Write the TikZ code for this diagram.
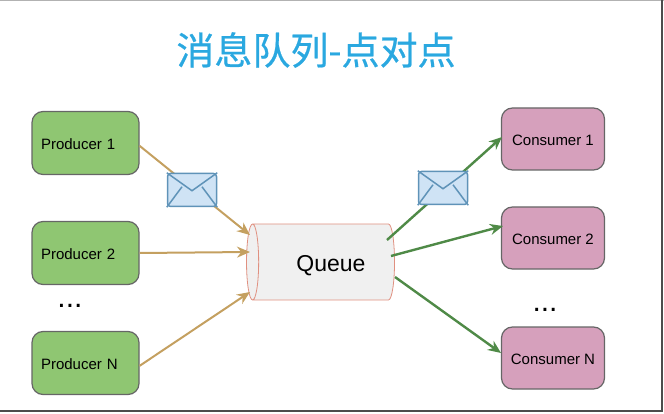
\documentclass[tikz,border=0pt]{standalone}
\usepackage{fontspec}
\setmainfont{Liberation Sans}
\newfontfamily\cjk[FakeBold=0.6]{Noto Sans CJK SC}
\usetikzlibrary{shapes.geometric, arrows.meta}

\definecolor{prodfill}{HTML}{8FC672}
\definecolor{consfill}{HTML}{D6A0BC}
\definecolor{boxline}{HTML}{666666}
\definecolor{inline}{HTML}{C4A060}
\definecolor{outline}{HTML}{4F8A47}
\definecolor{titleblue}{HTML}{2AA8E0}
\definecolor{letterline}{HTML}{5F93B8}
\definecolor{letterfill}{HTML}{CFE3F5}
\definecolor{queueline}{HTML}{E09080}

\begin{document}
\begin{tikzpicture}[x=1pt, y=-1pt, node distance=110pt, every node/.style={align=center, font=\small}, >={Stealth[length=13pt,width=11pt]}]
    % 样式
    \tikzstyle{producer} = [rectangle, rounded corners=11pt, draw=boxline, line width=1.2pt, fill=prodfill, minimum width=107pt, minimum height=63pt, inner sep=9pt, text width=89pt, text height=14pt, align=left, font=\fontsize{15}{18}\selectfont]
    \tikzstyle{consumer} = [rectangle, rounded corners=11pt, draw=boxline, line width=1.2pt, fill=consfill, minimum width=103pt, minimum height=62pt, text height=13pt, font=\fontsize{15}{18}\selectfont]
    \tikzstyle{queuebox} = [cylinder, shape border rotate=180, aspect=0.35, draw=queueline, line width=0.8pt, fill=gray!12, minimum width=76pt, minimum height=148pt, text height=23pt, text depth=5pt, font=\fontsize{23}{26}\selectfont]
    \tikzstyle{letter} = [rectangle, rounded corners=3pt, draw=letterline, line width=1.5pt, fill=letterfill, minimum width=49pt, minimum height=33pt]
    \tikzstyle{flap} = [draw=letterline, line width=1.5pt]
    \tikzstyle{inarrow} = [draw=inline, line width=2pt, ->]
    \tikzstyle{outarrow} = [draw=outline, line width=2.4pt, ->]
    \tikzstyle{dotsmark} = [font=\fontsize{30}{32}\selectfont]

    \useasboundingbox (0,0) rectangle (664,414);

    % 边框
    \draw[gray!60, line width=1pt] (0,0.5) -- (664,0.5);
    \draw[black!70, line width=2pt] (0,410.5) -- (661.5,410.5) -- (661.5,0);

    % 标题
    \node[font=\cjk\fontsize{38}{40}\selectfont, text=titleblue] (title) at (316,50) {消息队列-点对点};

    % 主体节点
    \node[producer] (P1) at (85.5,143) {Producer 1};
    \node[producer, below of=P1] (P2) {Producer 2};
    \node[producer, below of=P2] (PN) {Producer N};
    \node[consumer] (C1) at (553,139) {Consumer 1};
    \node[consumer, below of=C1, yshift=11pt] (C2) {Consumer 2};
    \node[consumer, below of=C2, yshift=-10pt] (CN) {Consumer N};
    \node[queuebox] (Q) at (325,262) {\hspace*{12pt}Queue};

    \node[dotsmark] (dotsL) at (70,306) {...};
    \node[dotsmark] (dotsR) at (545,310) {...};

    % 箭头端点
    \coordinate (Qin1) at (250,235);
    \coordinate (Qin2) at (250,252);
    \coordinate (QinN) at (250,292);
    \coordinate (Qout1) at (387,240);
    \coordinate (Qout2) at (391,256);
    \coordinate (QoutN) at (395,277);
    \coordinate (Cin1) at (502,137);
    \coordinate (Cin2) at (503,226);
    \coordinate (CinN) at (501,353);

    % 箭头
    \draw[inarrow] (P1.-3) -- (Qin1);
    \draw[inarrow] (P2.east) -- (Qin2);
    \draw[inarrow] (PN.-3) -- (QinN);
    \draw[outarrow] (Qout1) -- (Cin1);
    \draw[outarrow] (Qout2) -- (Cin2);
    \draw[outarrow] (QoutN) -- (CinN);

    % 信封
    \foreach \name/\pos in {M1/{192,190}, M2/{443,188}} {
      \node[letter] (\name) at (\pos) {};
      \draw[flap] (\name.north west) -- ([yshift=-18pt]\name.north) -- (\name.north east);
      \draw[flap] (\name.south west) -- ([xshift=-10pt,yshift=-14pt]\name.north);
      \draw[flap] (\name.south east) -- ([xshift=10pt,yshift=-14pt]\name.north);
    }
\end{tikzpicture}
\end{document}
